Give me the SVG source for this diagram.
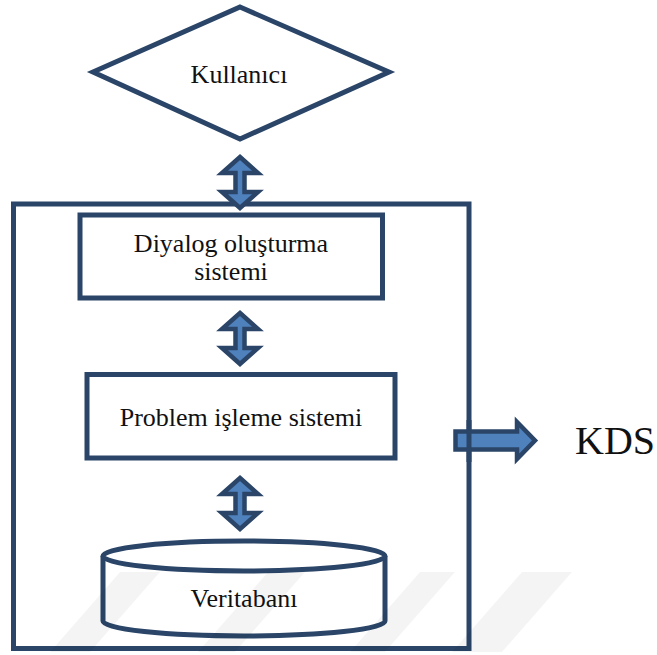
<svg xmlns="http://www.w3.org/2000/svg" width="657" height="655" viewBox="0 0 657 655">
  <style>
    .shape { fill: #ffffff; stroke: #2a4568; stroke-width: 5; }
    .frame { fill: none; stroke: #2a4568; stroke-width: 5; }
    .label { font-family: "Liberation Serif", "Times New Roman", serif; font-size: 26px; fill: #111111; text-anchor: middle; }
    .big { font-size: 40px; text-anchor: start; }
    .arrow { fill: #4f81bd; stroke: #2a4568; stroke-width: 4.5; stroke-linejoin: miter; stroke-miterlimit: 10; }
    .mark { fill: #000000; fill-opacity: 0.045; }
  </style>

  <rect width="657" height="655" fill="#ffffff"/>

  <!-- enclosing system boundary -->
  <g id="kds-frame">
    <rect class="frame" x="13.5" y="204" width="455.5" height="444.5"/>
  </g>

  <!-- user -->
  <g id="kullanici">
    <polygon class="shape" points="240,7 389,72 240,139 93,72"/>
    <text class="label" x="239" y="83">Kullanıcı</text>
  </g>

  <!-- dialog generation subsystem -->
  <g id="diyalog">
    <rect class="shape" x="80" y="215" width="302.5" height="83"/>
    <text class="label" x="231" y="252">Diyalog oluşturma</text>
    <text class="label" x="231" y="280">sistemi</text>
  </g>

  <!-- problem processing subsystem -->
  <g id="problem">
    <rect class="shape" x="87" y="374.5" width="308" height="83.5"/>
    <text class="label" x="241" y="426">Problem işleme sistemi</text>
  </g>

  <!-- database -->
  <g id="veritabani">
    <path class="shape" d="M103,556 V621 A141,15 0 0 0 385,621 V556"/>
    <ellipse class="shape" cx="244" cy="556" rx="141" ry="15"/>
    <text class="label" x="244" y="607">Veritabanı</text>
  </g>

  <!-- connectors -->
  <g id="connectors">
    <polygon class="arrow" points="240,157 258,173 244.5,173 244.5,192 258,192 240,208 222,192 235.5,192 235.5,173 222,173"/>
    <polygon class="arrow" points="240,313 258,329 244.5,329 244.5,348 258,348 240,364 222,348 235.5,348 235.5,329 222,329"/>
    <polygon class="arrow" points="240,478 258,494 244.5,494 244.5,513 258,513 240,529 222,513 235.5,513 235.5,494 222,494"/>
    <polygon class="arrow" points="455.5,431.5 517,431.5 517,422 535,440.5 517,459 517,449.5 455.5,449.5"/>
  </g>

  <!-- boundary edge drawn over the outgoing arrow -->
  <line x1="469" y1="420" x2="469" y2="462" stroke="#2a4568" stroke-width="5"/>

  <g id="kds">
    <text class="label big" x="575" y="454">KDS</text>
  </g>

  <!-- faint slanted background bands -->
  <g id="bands">
    <polygon class="mark" points="50,652 90,652 160,572 120,572"/>
    <polygon class="mark" points="198,652 235,652 305,572 268,572"/>
    <polygon class="mark" points="350,652 385,652 455,572 420,572"/>
    <polygon class="mark" points="452,652 502,652 572,572 522,572"/>
  </g>
</svg>
